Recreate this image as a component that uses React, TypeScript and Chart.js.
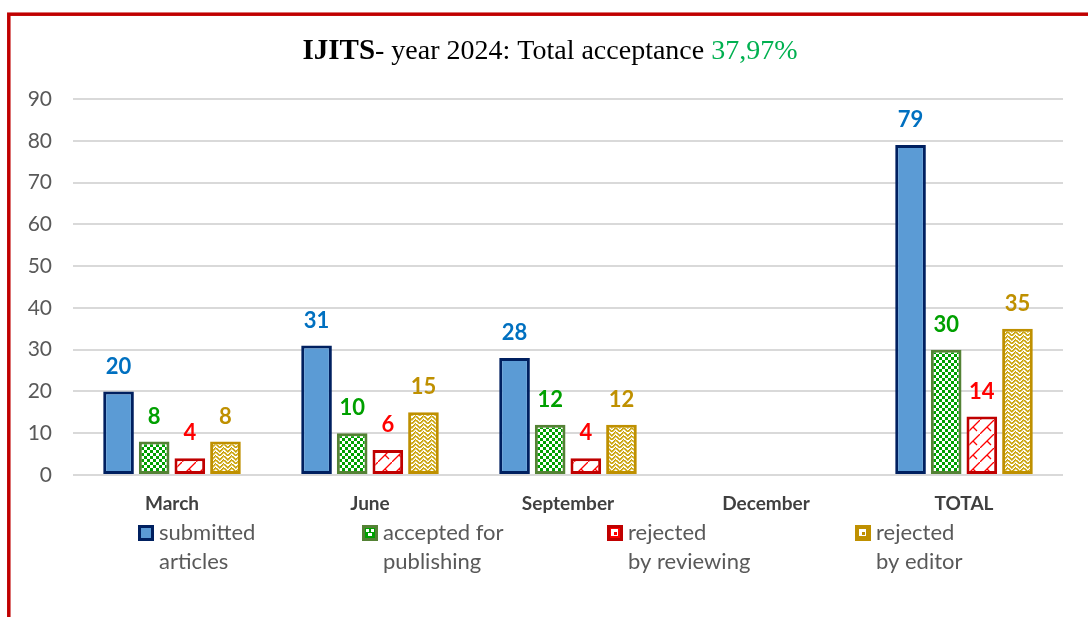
import React, { useEffect, useRef } from "react";
import { Chart, registerables } from "chart.js";

Chart.register(...registerables);

const categories = ["March", "June", "September", "December", "TOTAL"];
const submitted = [20, 31, 28, null, 79];
const accepted = [8, 10, 12, null, 30];
const rejectedReview = [4, 6, 4, null, 14];
const rejectedEditor = [8, 15, 12, null, 35];
const yTicks = [0, 10, 20, 30, 40, 50, 60, 70, 80, 90];
const legendLines = [
  ["submitted", "articles"],
  ["accepted for", "publishing"],
  ["rejected", "by reviewing"],
  ["rejected", "by editor"],
];

const FONT = "Lato, 'Liberation Sans', sans-serif";

function makePattern(w: number, h: number, draw: (c: CanvasRenderingContext2D) => void) {
  const cv = document.createElement("canvas");
  cv.width = w;
  cv.height = h;
  const c = cv.getContext("2d")!;
  c.fillStyle = "#ffffff";
  c.fillRect(0, 0, w, h);
  draw(c);
  return c.createPattern(cv, "repeat")!;
}

export default function App() {
  const ref = useRef<HTMLCanvasElement | null>(null);

  useEffect(() => {
    const canvas = ref.current!;
    const green = makePattern(6, 6, (c) => {
      c.fillStyle = "#00a000";
      c.fillRect(0, 0, 3, 3);
      c.fillRect(3, 3, 3, 3);
    });
    const red = makePattern(14, 14, (c) => {
      c.strokeStyle = "#ff0000";
      c.lineWidth = 1.3;
      c.beginPath();
      c.moveTo(-1, 15);
      c.lineTo(15, -1);
      c.moveTo(7, 7);
      c.lineTo(11, 11);
      c.stroke();
    });
    const gold = makePattern(8, 8, (c) => {
      c.fillStyle = "#c9a000";
      const px = [
        [0, 0], [1, 1], [2, 2], [3, 3], [4, 2], [5, 1], [6, 0],
        [0, 4], [1, 5], [2, 6], [3, 7], [4, 6], [5, 5], [6, 4],
        [7, 3], [7, 7],
      ];
      px.forEach(([x, y]) => c.fillRect(x, y, 1.6, 1.6));
    });

    const labelColors = ["#0070c0", "#00a000", "#ff0000", "#bf9000"];
    const markerFill: any[] = ["#5b9bd5", "#00a000", "#ff0000", "#bf9000"];
    const markerBorder = ["#002060", "#548235", "#c00000", "#bf9000"];
    const legendX = [138, 362, 607, 855];

    const framePlugin = {
      id: "frame",
      beforeDraw(chart: any) {
        const c = chart.ctx;
        c.save();
        c.fillStyle = "#ffffff";
        c.fillRect(0, 0, chart.width, chart.height);
        c.strokeStyle = "#c00000";
        c.lineWidth = 3.5;
        c.strokeRect(8.8, 14.2, 1200, 800);
        c.restore();
      },
      afterDraw(chart: any) {
        const c = chart.ctx;
        c.save();
        // title
        const p1 = "IJITS";
        const p2 = "- year 2024: Total acceptance ";
        const p3 = "37,97%";
        const f1 = "bold 29px 'Liberation Serif', serif";
        const f2 = "28px 'Liberation Serif', serif";
        c.font = f1;
        const w1 = c.measureText(p1).width;
        c.font = f2;
        const w2 = c.measureText(p2).width;
        const w3 = c.measureText(p3).width;
        let x = 550 - (w1 + w2 + w3) / 2;
        const by = 59;
        c.textBaseline = "alphabetic";
        c.textAlign = "left";
        c.fillStyle = "#000000";
        c.font = f1;
        c.fillText(p1, x, by);
        x += w1;
        c.font = f2;
        c.fillText(p2, x, by);
        x += w2;
        c.fillStyle = "#00b050";
        c.fillText(p3, x, by);

        // legend
        legendLines.forEach((lines, i) => {
          const lx = legendX[i];
          c.fillStyle = markerBorder[i];
          c.fillRect(lx, 525, 16, 16);
          c.fillStyle = "#ffffff";
          c.fillRect(lx + 3, 528, 10, 10);
          c.fillStyle = markerFill[i];
          c.fillRect(lx + 3, 528, 10, 10);
          if (i === 1) {
            c.fillStyle = "#ffffff";
            c.fillRect(lx + 4, 529, 3, 3);
            c.fillRect(lx + 9, 529, 3, 3);
            c.fillRect(lx + 6, 533, 4, 3);
          }
          if (i === 2 || i === 3) {
            c.fillStyle = "#ffffff";
            c.fillRect(lx + 4, 529, 7, 7);
            c.fillStyle = markerFill[i];
            c.fillRect(lx + 7, 532, 3, 3);
          }
          c.fillStyle = "#595959";
          c.font = `22px ${FONT}`;
          c.textBaseline = "middle";
          c.textAlign = "left";
          c.fillText(lines[0], lx + 21, 533);
          c.fillText(lines[1], lx + 21, 562);
        });
        c.restore();
      },
      afterDatasetsDraw(chart: any) {
        const c = chart.ctx;
        c.save();
        c.font = `bold 22px ${FONT}`;
        c.textAlign = "center";
        c.textBaseline = "middle";
        chart.data.datasets.forEach((ds: any, di: number) => {
          const meta = chart.getDatasetMeta(di);
          meta.data.forEach((el: any, i: number) => {
            const v = ds.data[i];
            if (v === null || v === undefined) return;
            c.fillStyle = labelColors[di];
            c.fillText(String(v), el.x, el.y - 25);
          });
        });
        c.restore();
      },
    };

    const common = {
      borderWidth: 3,
      borderSkipped: false,
      categoryPercentage: 0.72,
      barPercentage: 0.86,
    };

    const chart = new Chart(canvas, {
      type: "bar",
      data: {
        labels: categories,
        datasets: [
          { label: "submitted articles", data: submitted, backgroundColor: "#5b9bd5", borderColor: "#002060", ...common },
          { label: "accepted for publishing", data: accepted, backgroundColor: green, borderColor: "#548235", ...common },
          { label: "rejected by reviewing", data: rejectedReview, backgroundColor: red, borderColor: "#c00000", ...common },
          { label: "rejected by editor", data: rejectedEditor, backgroundColor: gold, borderColor: "#bf9000", ...common },
        ] as any,
      },
      options: {
        animation: false,
        responsive: true,
        maintainAspectRatio: false,
        layout: { padding: { left: 0, right: 25, top: 99, bottom: 0 } },
        plugins: { legend: { display: false }, title: { display: false }, tooltip: { enabled: false } },
        scales: {
          x: {
            grid: { display: false },
            border: { display: false },
            ticks: { font: { family: FONT, size: 19, weight: "bold" }, color: "#404040", padding: 9 },
            afterFit: (s: any) => { s.height = 142; },
          },
          y: {
            min: 0,
            max: 90,
            afterBuildTicks: (s: any) => { s.ticks = yTicks.map((v) => ({ value: v })); },
            ticks: { font: { family: FONT, size: 21 }, color: "#595959", padding: 21 },
            grid: { color: "#d9d9d9", lineWidth: 2, drawTicks: false },
            border: { display: false },
            afterFit: (s: any) => { s.width = 73; },
          },
        },
      } as any,
      plugins: [framePlugin],
    });
    return () => chart.destroy();
  }, []);

  return (
    <div style={{ position: "absolute", left: 0, top: 0, width: 1088, height: 617 }}>
      <canvas ref={ref} />
    </div>
  );
}
